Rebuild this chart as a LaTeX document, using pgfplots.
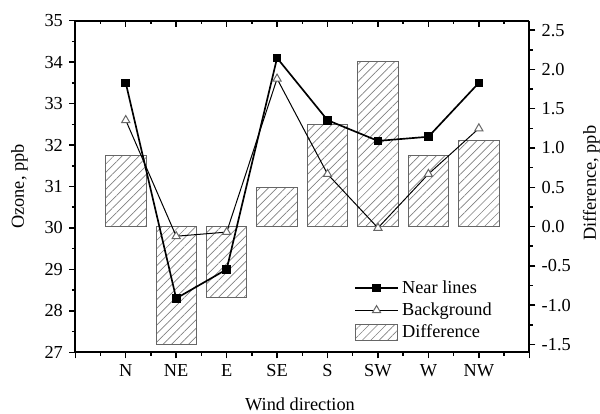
\documentclass[border=0pt]{standalone}
\usepackage{pgfplots}
\pgfplotsset{compat=1.18}
\usepackage{fontspec}
\setmainfont{Liberation Serif}
\usetikzlibrary{patterns.meta}

% one series per column: near = near lines, bg = background, diff = near - background
\pgfplotstableread{
x dir near bg diff
1 N  33.5 32.6 0.9
2 NE 28.3 29.8 -1.5
3 E  29.0 29.9 -0.9
4 SE 34.1 33.6 0.5
5 S  32.6 31.3 1.3
6 SW 32.1 30.0 2.1
7 W  32.2 31.3 0.9
8 NW 33.5 32.4 1.1
}\ozone

\newcommand\txtfont{\rmfamily\fontsize{11}{13}\selectfont}
\tikzset{
  hatch/.style={draw=gray!80!black, line width=0.5pt,
    pattern={Lines[angle=45,distance=3.6pt,line width=0.4pt]}, pattern color=gray},
}
\pgfplotsset{
  common/.style={
    scale only axis,
    width=272.4pt, height=198.96pt,
    xmin=0, xmax=9,
    major tick length=3.6pt, minor tick length=2pt,
    axis line style={line width=1pt},
    every tick/.style={black, line width=0.9pt},
    tick label style={font=\txtfont},
    label style={font=\txtfont},
    /pgf/number format/assume math mode=true,
  },
}

\begin{document}
\txtfont
\begin{tikzpicture}
% right axis: difference bars
\begin{axis}[common,
  axis y line*=right, axis x line=none,
  tick align=outside,
  ymin=-1.6, ymax=2.62,
  ytick={-1.5,-1,...,2.5}, minor y tick num=1,
  yticklabel style={/pgf/number format/.cd, fixed, fixed zerofill, precision=1},
  ylabel={Difference, ppb},
  ylabel style={at={(axis description cs:1.137,0.51)}, anchor=center},
]
\addplot[ybar, bar width=0.8, hatch] table[x=x, y=diff] {\ozone};
\end{axis}
% top x axis: inward ticks only
\begin{axis}[common,
  axis x line*=top, axis y line=none,
  tick align=inside,
  ymin=0, ymax=1,
  xtick={0,...,9}, minor x tick num=1, xticklabels={},
]
\end{axis}
% left axis: ozone lines
\begin{axis}[common,
  axis x line*=bottom, axis y line*=left,
  tick align=outside,
  ymin=27, ymax=35,
  ytick={27,...,35}, minor y tick num=1,
  xtick={0,...,9}, minor x tick num=1,
  xticklabels={,N,NE,E,SE,S,SW,W,NW,},
  xlabel={Wind direction},
  xlabel style={at={(axis description cs:0.495,-0.156)}, anchor=center},
  ylabel={Ozone, ppb},
  ylabel style={at={(axis description cs:-0.123,0.5)}, anchor=center},
  legend style={at={(axis description cs:0.603,0.015)}, anchor=south west,
    draw=none, fill=none, row sep=0pt, font=\txtfont,
    legend cell align=left,
    /tikz/every even column/.append style={column sep=1pt}},
  legend image code/.code={\draw[mark repeat=2, mark phase=2]
    plot coordinates {(0cm,0cm) (0.45cm,0cm) (0.9cm,0cm)};},
]
\addplot[black, line width=1pt, mark=square*, mark size=2.1pt,
  mark options={solid}] table[x=x, y=near] {\ozone};
\addlegendentry{Near lines}
\addplot[black, line width=0.6pt, mark=triangle*, mark size=2.8pt,
  mark options={fill=white, draw=gray!80!black, line width=0.6pt}]
  table[x=x, y=bg] {\ozone};
\addlegendentry{Background}
\addlegendimage{legend image code/.code={\draw[hatch] (0cm,-0.165cm) rectangle (0.9cm,0.165cm);}}
\addlegendentry{Difference}
\coordinate (sw) at (rel axis cs:0,0);
\coordinate (ne) at (rel axis cs:1,1);
\end{axis}
\pgfresetboundingbox
\path[use as bounding box] ([xshift=-45.18pt, yshift=-37.02pt]sw) rectangle ([xshift=42.42pt, yshift=12.42pt]ne);
\end{tikzpicture}
\end{document}
